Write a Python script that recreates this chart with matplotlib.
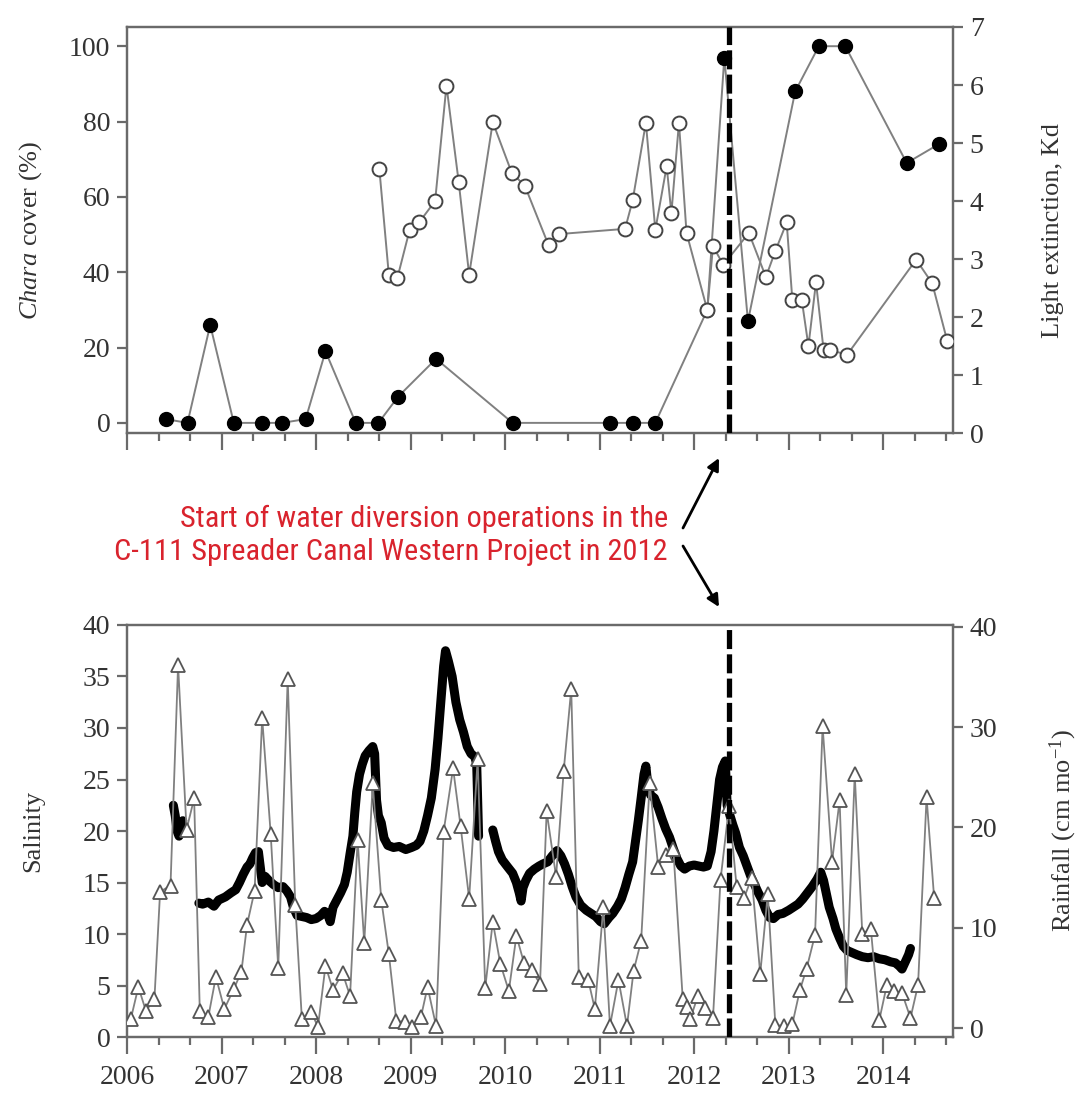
import numpy as np
import matplotlib
matplotlib.use("Agg")
import matplotlib.pyplot as plt
from matplotlib.patches import FancyArrowPatch
from matplotlib.ticker import MultipleLocator

# --- top panel: Chara cover (%) and light extinction (Kd) ---
chara_year = [2006.41, 2006.64, 2006.88, 2007.13, 2007.43, 2007.64, 2007.89, 2008.10,
              2008.42, 2008.66, 2008.87, 2009.27, 2010.08, 2011.11, 2011.35, 2011.59,
              2012.14, 2012.32, 2012.57, 2013.07, 2013.32, 2013.60, 2014.25, 2014.59]
chara_cover = [1, 0, 26, 0, 0, 0, 1, 19, 0, 0, 7, 17, 0, 0, 0, 0,
               30, 97, 27, 88, 100, 100, 69, 74]

kd_year = [2008.67, 2008.77, 2008.86, 2008.99, 2009.09, 2009.26, 2009.38, 2009.51, 2009.62,
           2009.87, 2010.07, 2010.21, 2010.46, 2010.57, 2011.27, 2011.35, 2011.49, 2011.59,
           2011.71, 2011.76, 2011.84, 2011.92, 2012.14, 2012.20, 2012.31, 2012.58, 2012.76,
           2012.86, 2012.98, 2013.04, 2013.14, 2013.21, 2013.29, 2013.37, 2013.44, 2013.62,
           2014.35, 2014.52, 2014.68]
kd_value = [4.55, 2.73, 2.67, 3.50, 3.63, 4.00, 5.99, 4.32, 2.73,
            5.36, 4.49, 4.26, 3.24, 3.43, 3.52, 4.01, 5.35, 3.50,
            4.60, 3.79, 5.35, 3.45, 2.12, 3.22, 2.90, 3.45, 2.69,
            3.14, 3.63, 2.29, 2.29, 1.50, 2.60, 1.44, 1.43, 1.35,
            2.99, 2.58, 1.58]

# --- bottom panel: monthly rainfall (cm/mo) ---
rain_year = [2006.04, 2006.12, 2006.20, 2006.29, 2006.35, 2006.46, 2006.54, 2006.63, 2006.71,
             2006.77, 2006.86, 2006.94, 2007.03, 2007.13, 2007.21, 2007.27, 2007.35, 2007.43,
             2007.52, 2007.60, 2007.70, 2007.78, 2007.85, 2007.95, 2008.02, 2008.10, 2008.18,
             2008.28, 2008.36, 2008.44, 2008.51, 2008.60, 2008.69, 2008.77, 2008.85, 2008.94,
             2009.02, 2009.11, 2009.18, 2009.27, 2009.35, 2009.45, 2009.53, 2009.62, 2009.71,
             2009.79, 2009.87, 2009.95, 2010.04, 2010.12, 2010.20, 2010.28, 2010.37, 2010.44,
             2010.54, 2010.62, 2010.70, 2010.78, 2010.88, 2010.95, 2011.04, 2011.11, 2011.20,
             2011.29, 2011.36, 2011.44, 2011.53, 2011.62, 2011.70, 2011.78, 2011.88, 2011.93,
             2011.96, 2012.04, 2012.12, 2012.20, 2012.28, 2012.37, 2012.45, 2012.53, 2012.61,
             2012.70, 2012.78, 2012.86, 2012.95, 2013.04, 2013.12, 2013.19, 2013.28, 2013.36,
             2013.46, 2013.54, 2013.61, 2013.70, 2013.78, 2013.87, 2013.96, 2014.04, 2014.12,
             2014.20, 2014.29, 2014.37, 2014.46, 2014.54]
rain_value = [0.9, 4.1, 1.7, 2.9, 13.6, 14.2, 36.2, 19.8, 22.9,
              1.7, 1.1, 5.1, 1.9, 3.9, 5.6, 10.3, 13.7, 30.9,
              19.4, 6.0, 34.8, 12.3, 0.9, 1.6, 0.1, 6.2, 3.8,
              5.5, 3.2, 18.8, 8.5, 24.4, 12.8, 7.4, 0.7, 0.6,
              0.1, 1.1, 4.1, 0.2, 19.6, 25.9, 20.1, 12.9, 26.8,
              4.0, 10.6, 6.4, 3.7, 9.2, 6.5, 5.8, 4.4, 21.6,
              15.1, 25.6, 33.8, 5.1, 4.8, 1.9, 12.1, 0.2, 4.8,
              0.2, 5.7, 8.7, 24.4, 16.1, 17.3, 17.9, 2.9, 2.1,
              0.9, 3.2, 2.0, 1.0, 14.8, 22.1, 14.1, 13.0, 15.0,
              5.4, 13.4, 0.3, 0.2, 0.4, 3.8, 5.9, 9.3, 30.1,
              16.6, 22.7, 3.3, 25.3, 9.4, 9.9, 0.8, 4.3, 3.7,
              3.5, 1.0, 4.3, 23.0, 13.0]

# --- bottom panel: salinity record, nan marks gaps in the logger data ---
sal_year = [2006.49, 2006.51, 2006.53, 2006.55, 2006.57, 2006.59, np.nan,
            2006.76, 2006.80, 2006.86, 2006.92, 2006.97, 2007.04, 2007.10, 2007.15, 2007.19,
            2007.23, 2007.27, 2007.30, 2007.33, 2007.36, 2007.39, 2007.41, 2007.43, np.nan,
            2007.46, 2007.50, 2007.55, 2007.60, 2007.65, 2007.69, 2007.73, 2007.76, 2007.80,
            2007.85, 2007.90, 2007.95, 2008.00, 2008.05, 2008.09, 2008.12, 2008.15, 2008.18,
            2008.22, 2008.26, 2008.30, 2008.33, 2008.36, 2008.39, 2008.41, 2008.43, 2008.46,
            2008.49, 2008.52, 2008.56, 2008.60, 2008.62, 2008.64, 2008.66, 2008.69, 2008.72,
            2008.76, 2008.82, 2008.88, 2008.95, 2009.01, 2009.06, 2009.10, 2009.14, 2009.18,
            2009.22, 2009.26, 2009.29, 2009.32, 2009.35, 2009.37, 2009.40, 2009.44, 2009.48,
            2009.52, 2009.56, 2009.60, 2009.64, 2009.68, 2009.70, 2009.71, 2009.72, np.nan,
            2009.87, 2009.90, 2009.93, 2009.97, 2010.02, 2010.08, 2010.12, 2010.15, 2010.17,
            2010.19, 2010.22, 2010.26, 2010.31, 2010.36, 2010.40, 2010.45, 2010.50, 2010.55,
            2010.59, 2010.63, 2010.67, 2010.71, 2010.75, 2010.80, 2010.86, 2010.91, 2010.96,
            2011.01, 2011.05, 2011.10, 2011.14, 2011.19, 2011.23, 2011.27, 2011.31, 2011.35,
            2011.38, 2011.41, 2011.44, 2011.47, 2011.49, 2011.51, 2011.54, 2011.58, 2011.62,
            2011.66, 2011.70, 2011.74, 2011.78, 2011.82, 2011.86, 2011.90, 2011.95, 2012.00,
            2012.05, 2012.10, 2012.14, 2012.18, 2012.21, 2012.24, 2012.27, 2012.30, 2012.33,
            2012.35, 2012.38, 2012.41, 2012.44, 2012.48, 2012.52, 2012.56, 2012.60, 2012.64,
            2012.68, 2012.72, 2012.76, 2012.80, 2012.84, 2012.89, 2012.94, 2013.00, 2013.05,
            2013.10, 2013.15, 2013.20, 2013.25, 2013.30, 2013.34, 2013.37, 2013.40, 2013.43,
            2013.47, 2013.50, 2013.54, 2013.58, 2013.62, 2013.67, 2013.72, 2013.78, 2013.84,
            2013.90, 2013.96, 2014.02, 2014.08, 2014.13, 2014.17, 2014.20, 2014.23, 2014.27,
            2014.29]
sal_value = [22.5, 21.5, 20.0, 19.5, 20.5, 21.0, np.nan,
             13.0, 12.9, 13.1, 12.7, 13.3, 13.6, 14.0, 14.3, 15.0,
             15.8, 16.5, 16.8, 17.4, 17.9, 18.0, 16.5, 15.0, np.nan,
             15.6, 15.2, 14.8, 14.5, 14.6, 14.2, 13.6, 12.6, 11.8,
             11.7, 11.6, 11.4, 11.5, 11.8, 12.2, 12.0, 11.2, 12.6,
             13.3, 14.0, 14.8, 16.0, 17.8, 19.5, 21.8, 23.8, 25.5,
             26.5, 27.3, 27.8, 28.2, 27.5, 23.0, 21.5, 20.8, 19.3,
             18.6, 18.4, 18.5, 18.2, 18.4, 18.6, 19.0, 20.0, 21.5,
             23.2, 26.0, 29.0, 32.5, 36.0, 37.5, 36.5, 35.0, 32.5,
             30.8, 29.6, 28.2, 27.5, 27.2, 26.5, 23.0, 19.5, np.nan,
             20.1, 19.0, 18.0, 17.2, 16.6, 15.9, 15.0, 14.0, 13.2,
             14.5, 15.2, 15.9, 16.3, 16.6, 16.8, 17.0, 17.6, 18.1,
             17.6, 16.8, 15.8, 14.6, 13.6, 12.8, 12.3, 12.0, 11.7,
             11.2, 11.0, 11.6, 12.0, 12.7, 13.4, 14.5, 15.8, 17.0,
             19.0, 21.0, 23.2, 25.5, 26.3, 24.5, 23.5, 23.2, 22.3,
             21.2, 20.2, 19.4, 18.3, 17.3, 16.6, 16.3, 16.6, 16.7,
             16.6, 16.5, 16.6, 18.0, 20.0, 22.5, 25.0, 26.2, 26.8,
             22.5, 21.5, 20.6, 19.8, 18.4, 17.6, 16.6, 15.6, 14.8,
             14.0, 13.3, 12.3, 11.6, 11.5, 11.9, 12.0, 12.3, 12.6,
             12.9, 13.4, 14.0, 14.6, 15.3, 16.0, 15.2, 13.9, 12.6,
             11.5, 10.5, 9.6, 8.8, 8.4, 8.2, 8.0, 7.8, 7.7,
             7.8, 7.6, 7.5, 7.3, 7.2, 6.9, 6.6, 7.2, 8.0,
             8.6]

diversion_year = 2012.37
year_ticks = [2006, 2007, 2008, 2009, 2010, 2011, 2012, 2013, 2014]
note_lines = ['Start of water diversion operations in the',
              'C-111 Spreader Canal Western Project in 2012']

plt.rcParams['font.family'] = ['Liberation Serif', 'DejaVu Serif']
plt.rcParams['mathtext.fontset'] = 'custom'
plt.rcParams['mathtext.rm'] = 'Liberation Serif'
plt.rcParams['mathtext.it'] = 'Liberation Serif:italic'

spine_col = '#6a6a6a'
text_col = '#333333'
line_col = '#808080'

fig = plt.figure(figsize=(10.82, 10.93), dpi=100)
ax1 = fig.add_axes([0.1174, 0.6038, 0.7634, 0.3715])
ax1r = ax1.twinx()
ax2 = fig.add_axes([0.1174, 0.0512, 0.7634, 0.3770])
ax2r = ax2.twinx()


def style(ax, labels_bottom):
    for s in ax.spines.values():
        s.set_color(spine_col)
        s.set_linewidth(1.6)
    ax.set_xlim(2006, 2014.74)
    ax.set_xticks(year_ticks)
    ax.xaxis.set_minor_locator(MultipleLocator(1 / 3))
    ax.tick_params(axis='x', which='major', length=12, width=1.6, color=spine_col,
                   labelsize=20, labelcolor=text_col, pad=8, labelbottom=labels_bottom)
    ax.tick_params(axis='x', which='minor', length=6, width=1.6, color=spine_col)
    ax.tick_params(axis='y', length=7, width=1.6, color=spine_col,
                   labelsize=20, labelcolor=text_col, pad=5)


# top panel
ax1.plot(chara_year, chara_cover, color=line_col, lw=1.4, marker='o', ms=10,
         mfc='black', mec='black', zorder=3)
ax1.set_ylim(-2.7, 105.1)
ax1.set_yticks([0, 20, 40, 60, 80, 100])
ax1r.plot(kd_year, kd_value, color=line_col, lw=1.4, marker='o', ms=10,
          mfc='white', mec='#444444', mew=1.4, zorder=3)
ax1r.set_ylim(0, 7)
ax1r.set_yticks(range(8))
ax1r.axvline(diversion_year, color='black', lw=3.8, ls=(0, (3.6, 1.0)), zorder=10)
style(ax1, False)
style(ax1r, False)
ax1.set_ylabel(r'$\mathit{Chara}$ cover (%)', fontsize=19, color=text_col)
ax1.yaxis.set_label_coords(-0.100, 0.5)
ax1r.set_ylabel('Light extinction, Kd', fontsize=19, color=text_col)
ax1r.yaxis.set_label_coords(1.108, 0.5)

# bottom panel
ax2.plot(sal_year, sal_value, color='black', lw=6.5, solid_capstyle='round',
         solid_joinstyle='round', zorder=2)
ax2.set_ylim(0, 40)
ax2.set_yticks(range(0, 41, 5))
ax2r.plot(rain_year, rain_value, color=line_col, lw=1.3, marker='^', ms=10,
          mfc='white', mec='#555555', mew=1.3, zorder=3)
ax2r.set_ylim(-0.9, 40.2)
ax2r.set_yticks(range(0, 41, 10))
ax2r.axvline(diversion_year, color='black', lw=3.8, ls=(0, (3.6, 1.0)), zorder=10)
style(ax2, True)
style(ax2r, True)
ax2.set_ylabel('Salinity', fontsize=19, color=text_col)
ax2.yaxis.set_label_coords(-0.100, 0.5)
ax2r.set_ylabel(r'Rainfall (cm mo$^{-1}$)', fontsize=19, color=text_col)
ax2r.yaxis.set_label_coords(1.115, 0.5)

# annotation between panels
W, H = 1082, 1093
red = '#d9232d'
note_family = ['Roboto Condensed', 'Liberation Sans Narrow', 'Liberation Sans']
t1 = fig.text(668 / W, 1 - 519 / H, note_lines[0], ha='right', va='center',
              color=red, fontsize=20, family=note_family)
t2 = fig.text(668 / W, 1 - 552 / H, note_lines[1], ha='right', va='center',
              color=red, fontsize=20, family=note_family)
# shrink the note so its first line spans the same width as in the source figure
fig.canvas.draw()
w1 = t1.get_window_extent().width
size = 20 * 487 / w1
t1.set_fontsize(size)
t2.set_fontsize(size)

arrow = dict(arrowstyle='-|>', color='black', lw=2, mutation_scale=18, shrinkA=0, shrinkB=0)
fig.add_artist(FancyArrowPatch((683 / W, 1 - 528 / H), (719 / W, 1 - 458 / H),
                               transform=fig.transFigure, **arrow))
fig.add_artist(FancyArrowPatch((683 / W, 1 - 546 / H), (719 / W, 1 - 607 / H),
                               transform=fig.transFigure, **arrow))

fig.savefig('out.png', dpi=100, facecolor='white')
